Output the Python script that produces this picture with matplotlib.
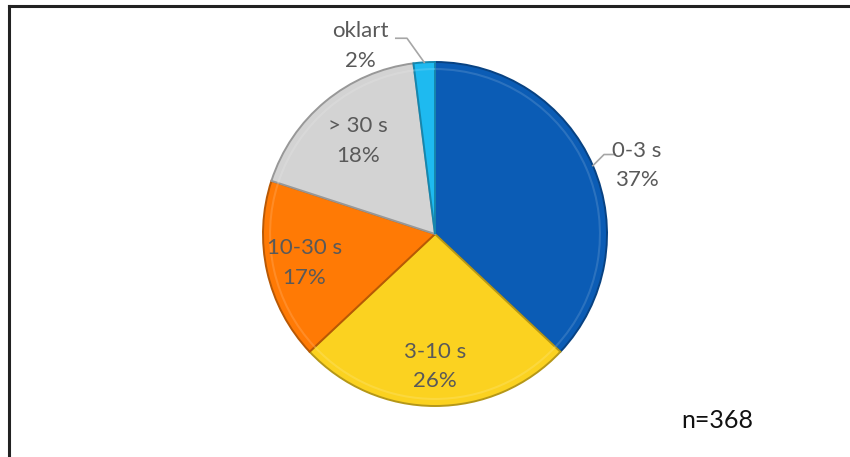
import numpy as np
import matplotlib.pyplot as plt
import matplotlib.colors as mcolors
from matplotlib.patches import Wedge

plt.rcParams['font.family'] = ['Lato', 'DejaVu Sans']

kategorier = ['0-3 s', '3-10 s', '10-30 s', '> 30 s', 'oklart']
andel = [37, 26, 17, 18, 2]
farger = ['#0B5CB5', '#FBD220', '#FF7A05', '#D3D3D3', '#1EBAF0']
antal_text = 'n=368'

# radie för etiketter inne i tårtan
inne = {'3-10 s': 0.77, '10-30 s': 0.78, '> 30 s': 0.70}

fig = plt.figure(figsize=(8.5, 4.57), dpi=100)

# ram bara upptill och till vänster
fig.add_artist(plt.Line2D([8.5 / 850, 1], [1 - 5.5 / 457] * 2, color='#222222', lw=2.2))
fig.add_artist(plt.Line2D([8.5 / 850] * 2, [0, 1 - 5.5 / 457], color='#222222', lw=2.2))

cx, cy, r = 435, 234, 172
ax = fig.add_axes([(cx - r) / 850, (457 - cy - r) / 457, 2 * r / 850, 2 * r / 457])

wedges, _ = ax.pie(andel, colors=farger, startangle=90, counterclock=False,
                   radius=1, wedgeprops=dict(linewidth=0))
ax.set_xlim(-1, 1)
ax.set_ylim(-1, 1)
ax.set_aspect('equal')
ax.axis('off')

# enkel "bevel"-effekt: mörkare kant och ljusare innerkant
for w, c in zip(wedges, farger):
    rgb = np.array(mcolors.to_rgb(c))
    dark = rgb * 0.72
    light = np.clip(rgb + (1 - rgb) * 0.3, 0, 1)
    w.set_edgecolor(dark)
    w.set_linewidth(1.4)
    ax.add_patch(Wedge((0, 0), 0.965, w.theta1, w.theta2, width=0.012,
                       facecolor=light, edgecolor='none', alpha=0.45))

txt = dict(color='#595959', fontsize=16, ha='center', va='center', linespacing=1.6)

for w, namn, p in zip(wedges, kategorier, andel):
    mitt = np.deg2rad((w.theta1 + w.theta2) / 2)
    etikett = f'{namn}\n{p}%'
    ex, ey = np.cos(mitt), np.sin(mitt)
    if namn in inne:
        rr = inne[namn]
        ax.text(rr * ex, rr * ey, etikett, **txt)
    elif namn == '0-3 s':
        ax.plot([ex, ex + 0.065, ex + 0.13], [ey, ey + 0.065, ey + 0.065], color='#A6A6A6', lw=1.2,
                clip_on=False)
        ax.text(ex + 0.256, ey + 0.0, etikett, **txt)
    else:
        ax.plot([ex, ex - 0.10, ex - 0.165], [ey, ey + 0.14, ey + 0.14], color='#A6A6A6', lw=1.2,
                clip_on=False)
        ax.text(ex - 0.372, ey + 0.095, etikett, **txt)

fig.text(717 / 850, 1 - 420 / 457, antal_text, fontsize=18, color='#111111',
         ha='center', va='center')

fig.savefig('out.png', dpi=100)
